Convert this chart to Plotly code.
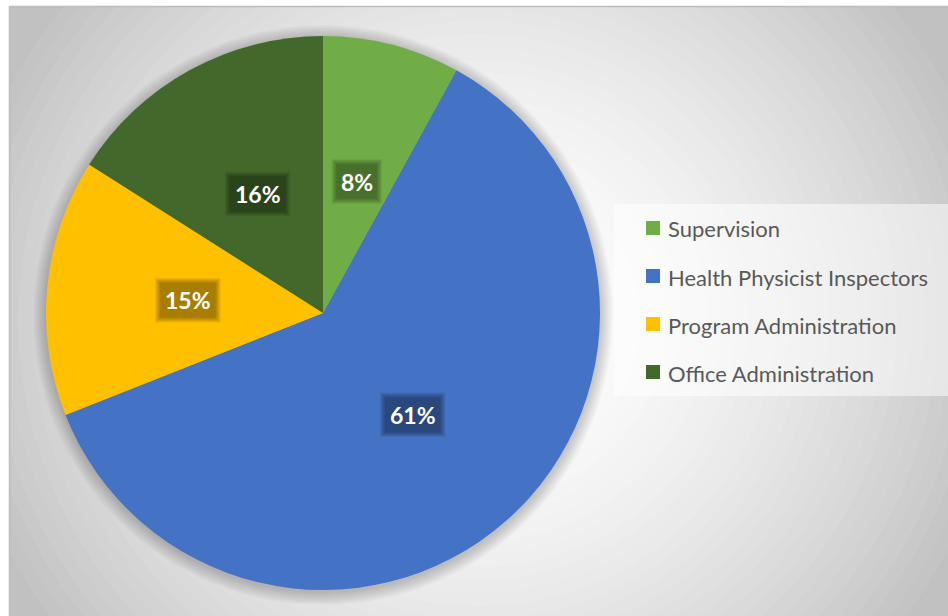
import math
import plotly.graph_objects as go

# ---- data ----
labels = ["Supervision", "Health Physicist Inspectors", "Program Administration", "Office Administration"]
values = [8, 61, 15, 16]
colors = ["#70AD47", "#4472C4", "#FFC000", "#43682B"]

W, H = 948, 616


def px(x):
    return x / W


def py(y):
    return 1 - y / H


cx, cy, R = 323, 313, 277

fig = go.Figure(go.Pie(
    labels=labels, values=values, sort=False, direction="clockwise", rotation=0,
    marker=dict(colors=colors, line=dict(width=0)),
    textinfo="none", hoverinfo="label+percent", showlegend=False,
    domain=dict(x=[px(cx - R), px(cx + R)], y=[py(cy + R), py(cy - R)]),
))

shapes = []
# background radial gradient
shapes.append(dict(type="rect", xref="paper", yref="paper", x0=0, x1=1, y0=0, y1=1,
                   fillcolor="#c4c4c4", line=dict(width=0), layer="below"))
gx, gy, rx, ry = 478, 320, 520, 500
N = 50
for i in range(N):
    t = 1.3 * (1 - i / N)
    drop = min(58 * t ** 1.8, 62)
    c = int(round(255 - drop))
    shapes.append(dict(type="circle", xref="paper", yref="paper",
                       x0=px(gx - rx * t), x1=px(gx + rx * t), y0=py(gy + ry * t), y1=py(gy - ry * t),
                       fillcolor=f"rgb({c},{c},{c})", line=dict(width=0), layer="below"))
# soft shadow around pie
for k in range(9):
    r = R + 13 - k * 1.5
    shapes.append(dict(type="circle", xref="paper", yref="paper",
                       x0=px(cx - r), x1=px(cx + r), y0=py(cy + 2 + r), y1=py(cy + 2 - r),
                       fillcolor="rgba(0,0,0,0.022)", line=dict(width=0), layer="below"))
# white outer margins and border
shapes.append(dict(type="rect", xref="paper", yref="paper", x0=0, x1=px(9), y0=0, y1=1,
                   fillcolor="white", line=dict(width=0), layer="below"))
shapes.append(dict(type="rect", xref="paper", yref="paper", x0=0, x1=1, y0=py(6), y1=1,
                   fillcolor="white", line=dict(width=0), layer="below"))
shapes.append(dict(type="line", xref="paper", yref="paper", x0=px(9.5), x1=px(9.5), y0=0, y1=py(6),
                   line=dict(color="#bcbcbc", width=1.5), layer="below"))
shapes.append(dict(type="line", xref="paper", yref="paper", x0=px(9), x1=1, y0=py(6.5), y1=py(6.5),
                   line=dict(color="#bcbcbc", width=1.5), layer="below"))
# legend box
shapes.append(dict(type="rect", xref="paper", yref="paper", x0=px(614), x1=1, y0=py(396), y1=py(204),
                   fillcolor="rgba(255,255,255,0.5)", line=dict(width=0), layer="below"))

annotations = []
# legend items
ly0, ldy = 228, 48
for i, (lab, col) in enumerate(zip(labels, colors)):
    yy = ly0 + i * ldy
    shapes.append(dict(type="rect", xref="paper", yref="paper", x0=px(646), x1=px(660),
                       y0=py(yy + 7), y1=py(yy - 7), fillcolor=col, line=dict(width=0), layer="above"))
    annotations.append(dict(xref="paper", yref="paper", x=px(666), y=py(yy + 1), xanchor="left", yanchor="middle",
                            text=lab, showarrow=False, font=dict(family="Lato", size=22, color="#595959")))

# data labels placed along each slice bisector, with soft dark boxes
FS = 23
total = sum(values)
cum = 0
for v in values:
    mid = (cum + v / 2) / total * 2 * math.pi
    cum += v
    lx = cx + 0.49 * R * math.sin(mid)
    ly = cy - 0.49 * R * math.cos(mid)
    txt = f"{v / total * 100:.0f}%"
    hw = len(txt) * FS * 0.33 + 4
    hh = FS * 0.62 + 2
    for k in range(6):
        e = 6 - k
        shapes.append(dict(type="rect", xref="paper", yref="paper",
                           x0=px(lx - hw - e), x1=px(lx + hw + e), y0=py(ly + hh + e), y1=py(ly - hh - e),
                           fillcolor="rgba(0,0,0,0.065)", line=dict(width=0), layer="above"))
    annotations.append(dict(xref="paper", yref="paper", x=px(lx), y=py(ly), xanchor="center", yanchor="middle",
                            showarrow=False, text=f"<b>{txt}</b>",
                            font=dict(family="Lato", size=FS, color="white")))

fig.update_layout(width=W, height=H, margin=dict(l=0, r=0, t=0, b=0),
                  paper_bgcolor="white", plot_bgcolor="white",
                  shapes=shapes, annotations=annotations, showlegend=False)
fig.write_html("out.html", config={"displayModeBar": False},
               post_script="document.body.style.margin='0';document.body.style.overflow='hidden';")
